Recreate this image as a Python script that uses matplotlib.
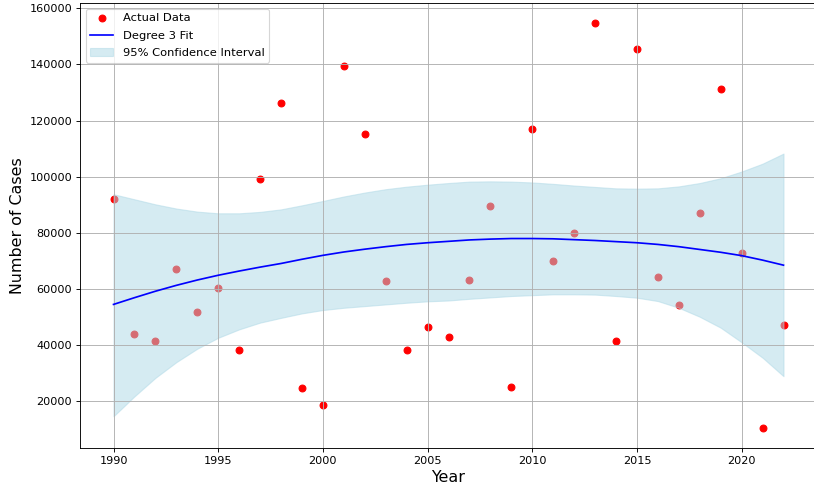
import numpy as np
import matplotlib
matplotlib.use("Agg")
import matplotlib.pyplot as plt

years = np.arange(1990, 2023)
cases = [92000, 43700, 41200, 67000, 51600, 60100, 38300, 99200, 126400, 24700,
         18600, 139600, 115300, 62700, 38300, 46200, 42600, 63000, 89500, 25100,
         117100, 69800, 79800, 154700, 41200, 145400, 64100, 54100, 87000, 131400,
         72700, 10400, 46900]
degree = 3

# fitted curve and 95% band at each year
fit_values = [54400, 56800, 59100, 61200, 63100, 64800, 66300, 67700, 69000, 70500,
              71900, 73100, 74100, 75000, 75800, 76400, 76900, 77400, 77700, 77900,
              77900, 77800, 77500, 77200, 76800, 76400, 75800, 75000, 74000, 73000,
              71800, 70200, 68400]
ci_lower = [14500, 21600, 28200, 33800, 38600, 42500, 45500, 47900, 49600, 51200,
            52400, 53200, 53800, 54400, 55000, 55500, 55800, 56400, 56900, 57400,
            57700, 58000, 58000, 57900, 57400, 56800, 55600, 53200, 50000, 46100,
            40900, 35400, 28800]
ci_upper = [93700, 91900, 90100, 88600, 87500, 86900, 86900, 87400, 88300, 89750,
            91300, 92900, 94300, 95500, 96400, 97100, 97700, 98200, 98300, 98200,
            97900, 97400, 96800, 96300, 95800, 95700, 95800, 96500, 97700, 99400,
            101800, 104600, 108200]

fig = plt.figure(figsize=(10, 491 / 81.4), dpi=81.4)
ax = fig.add_axes([80 / 814, 43 / 491, 737 / 814, 445 / 491])
ax.scatter(years, cases, color="red", label="Actual Data")
ax.plot(years, fit_values, color="blue", label=f"Degree {degree} Fit")
ax.fill_between(years, ci_lower, ci_upper, color="lightblue", alpha=0.5,
                label="95% Confidence Interval")
ax.set_xlabel("Year", fontsize=14)
ax.set_ylabel("Number of Cases", fontsize=14)
ax.legend(loc="upper left", fontsize=10.2, labelspacing=0.62)
ax.grid(True)

fig.savefig("out.png", dpi=81.4)
